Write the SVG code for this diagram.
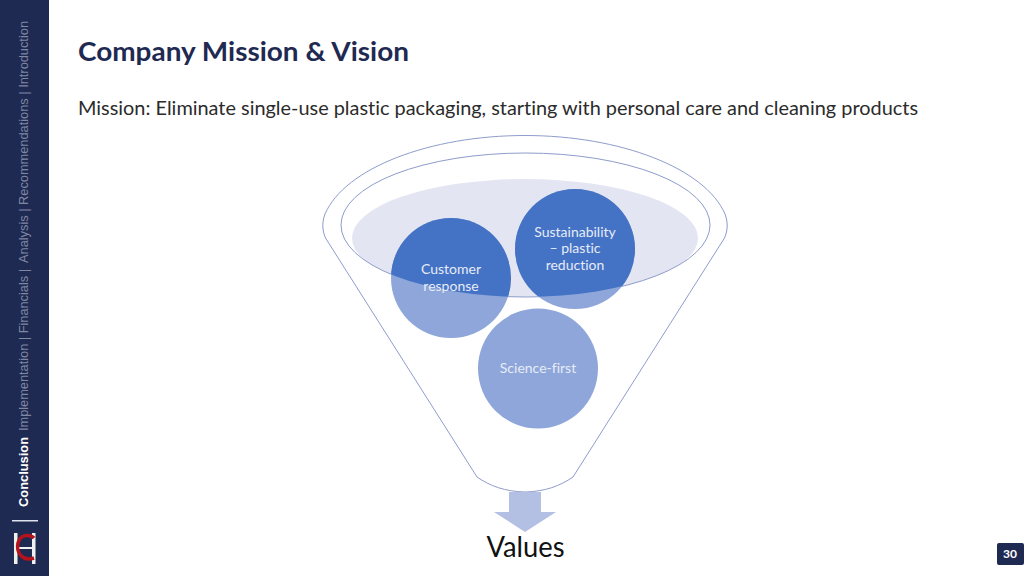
<svg xmlns="http://www.w3.org/2000/svg" width="1024" height="576" viewBox="0 0 1024 576">
<style>
text{font-variant-ligatures:none}
.nav{font-family:"Liberation Sans",Arial,sans-serif;font-size:12px;fill:#7f87a3}
.c{font-family:Lato,"Open Sans",sans-serif;font-size:14px;fill:#e6ecf8;text-anchor:middle}
.ol{fill:none;stroke:#8e9ccb;stroke-width:1}
</style>
<defs>
<clipPath id="inner"><ellipse cx="525.500" cy="225" rx="184.500" ry="72"/></clipPath>
</defs>
<rect width="1024" height="576" fill="#fff"/>
<g id="sidebar">
<rect width="49" height="576" fill="#1f2a52"/>
<text class="nav" transform="translate(28,263) rotate(-90)" textLength="242" lengthAdjust="spacingAndGlyphs">Analysis |  Recommendations | Introduction</text>
<text class="nav" transform="translate(28,431) rotate(-90)" textLength="162" lengthAdjust="spacingAndGlyphs">Implementation |  Financials |</text>
<text transform="translate(28,507) rotate(-90)" font-family="Liberation Sans,Arial,sans-serif" font-size="12" font-weight="700" fill="#fff" textLength="70" lengthAdjust="spacingAndGlyphs">Conclusion</text>
<rect x="12" y="520" width="26" height="1.500" fill="#dfe3ee"/>
<rect x="14" y="533" width="3.500" height="31" fill="#f0f0f0"/>
<rect x="32" y="533" width="3.500" height="31" fill="#f0f0f0"/>
<rect x="17" y="547" width="15" height="2" fill="#f0f0f0"/>
<path d="M34 538 C30 534 20 534 18 543 C16 552 22 562 34 558" fill="none" stroke="#b5121b" stroke-width="3.500"/>
</g>
<g id="title"><text x="78" y="61" font-family="Lato,'Open Sans',sans-serif" font-size="27" font-weight="700" fill="#1f2a52" textLength="331" lengthAdjust="spacingAndGlyphs">Company Mission &amp; Vision</text></g>
<g id="mission"><text x="78" y="115" font-family="Lato,'Open Sans',sans-serif" font-size="19" fill="#2b2b2b" textLength="840" lengthAdjust="spacingAndGlyphs">Mission: Eliminate single-use plastic packaging, starting with personal care and cleaning products</text></g>
<g id="liquid"><ellipse cx="525" cy="238" rx="173" ry="59" fill="#e3e6f2" clip-path="url(#inner)"/></g>
<g id="funnel">
<path class="ol" d="M325.500 238 C322 230 322 222 325 214 C345 168 430 135.500 525 135.500 C620 135.500 705 168 725 214 C728 222 728 230 724.500 238 L573 477 C560 486 545 491.500 525 492 C505 491.500 490 486 477 477 Z"/>
<ellipse class="ol" cx="525.500" cy="225" rx="184.500" ry="72"/>
</g>
<g id="node-sustainability">
<circle cx="575" cy="249" r="60" fill="#8ea6d9"/>
<circle cx="575" cy="249" r="60" fill="#4472c4" clip-path="url(#inner)"/>
<text class="c" x="575" y="237">Sustainability</text><text class="c" x="575" y="253">– plastic</text><text class="c" x="575" y="270">reduction</text>
</g>
<g id="node-customer">
<circle cx="451" cy="278" r="60" fill="#8ea6d9"/>
<circle cx="451" cy="278" r="60" fill="#4472c4" clip-path="url(#inner)"/>
<text class="c" x="451" y="274">Customer</text><text class="c" x="451" y="291">response</text>
</g>
<g id="node-science">
<circle cx="538" cy="368.500" r="60" fill="#8ea6d9"/>
<text class="c" x="538" y="373">Science-first</text>
</g>
<g id="connectors"><path d="M509 492 H541 V512 H556 L525 532 L494 512 H509 Z" fill="#b4c0e3"/></g>
<g id="values"><text x="525.500" y="557" font-family="Lato,'Open Sans',sans-serif" font-size="29" fill="#111" text-anchor="middle" textLength="78" lengthAdjust="spacingAndGlyphs">Values</text></g>
<g id="page"><rect x="997" y="543" width="27" height="22" rx="2" fill="#1f2a52"/><text x="1010" y="558" font-family="Lato,'Open Sans',sans-serif" font-size="12" font-weight="700" fill="#fff" text-anchor="middle">30</text></g>
</svg>
